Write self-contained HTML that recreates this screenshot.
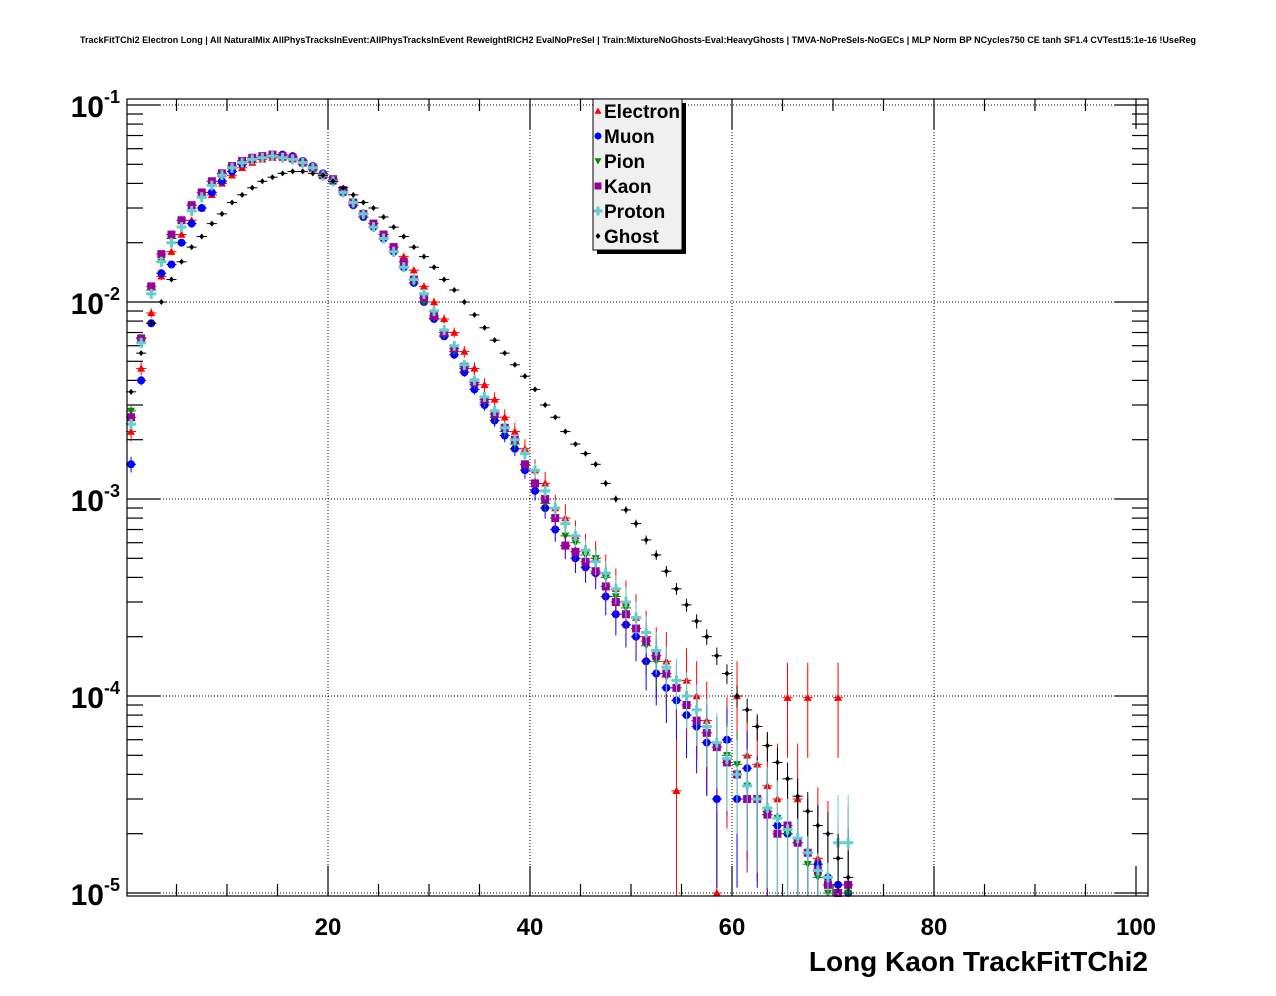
<!DOCTYPE html>
<html><head><meta charset="utf-8"><style>
body{margin:0;background:#fff;}
svg{display:block;font-family:"Liberation Sans",Arial,sans-serif;}
</style></head><body>
<svg id="chart" width="1276" height="996" viewBox="0 0 1276 996" xmlns="http://www.w3.org/2000/svg">
<rect x="0" y="0" width="1276" height="996" fill="#fff"/>
<text x="638" y="43" text-anchor="middle" font-size="9.5" font-weight="bold" textLength="1116" lengthAdjust="spacingAndGlyphs">TrackFitTChi2 Electron Long | All NaturalMix AllPhysTracksInEvent:AllPhysTracksInEvent ReweightRICH2 EvalNoPreSel | Train:MixtureNoGhosts-Eval:HeavyGhosts | TMVA-NoPreSels-NoGECs | MLP Norm BP NCycles750 CE tanh SF1.4 CVTest15:1e-16 !UseReg</text>
<g id="grid"></g>
<g id="ticks"></g>
<g id="marks"></g>
<rect x="127" y="99" width="1021" height="797" fill="none" stroke="#000" stroke-width="1.2"/>
<text x="1148" y="971" text-anchor="end" font-size="28" font-weight="bold">Long Kaon TrackFitTChi2</text>
<g>
<rect x="597" y="103" width="89" height="151" fill="#000"/>
<rect x="593" y="99" width="89" height="151" fill="#f0f0f0" stroke="#000" stroke-width="1"/>
<g id="legend-entries"></g>
</g>
</svg>
<script>
const binCenters = [];
for (let i = 0; i < 72; i++) binCenters.push(0.5 + i);
const seriesNames = ["Electron","Muon","Pion","Kaon","Proton","Ghost"];
const electron = [2.2e-3,4.6e-3,8.8e-3,1.35e-2,1.8e-2,2.2e-2,2.6e-2,3.0e-2,3.5e-2,4.0e-2,4.4e-2,4.8e-2,5.1e-2,5.3e-2,5.4e-2,5.4e-2,5.3e-2,5.1e-2,4.8e-2,4.4e-2,4.1e-2,3.6e-2,3.2e-2,2.8e-2,2.5e-2,2.2e-2,1.9e-2,1.7e-2,1.45e-2,1.2e-2,1.0e-2,8.2e-3,7.0e-3,5.6e-3,4.6e-3,3.8e-3,3.2e-3,2.6e-3,2.2e-3,1.8e-3,1.4e-3,1.2e-3,9e-4,8e-4,6.5e-4,5.5e-4,5e-4,4.2e-4,3.5e-4,3.0e-4,2.5e-4,2.0e-4,1.6e-4,1.5e-4,3.3e-5,1.2e-4,1.0e-4,7.5e-5,1e-5,6e-5,1e-4,5e-5,4.5e-5,3.5e-5,3e-5,9.8e-5,3e-5,9.8e-5,1.5e-5,1.2e-5,9.8e-5,1.1e-5];
const muon = [1.5e-3,4.0e-3,7.8e-3,1.4e-2,1.55e-2,2.0e-2,2.5e-2,3.0e-2,3.6e-2,4.1e-2,4.6e-2,5.0e-2,5.3e-2,5.5e-2,5.6e-2,5.6e-2,5.5e-2,5.2e-2,4.9e-2,4.5e-2,4.1e-2,3.6e-2,3.1e-2,2.7e-2,2.4e-2,2.1e-2,1.8e-2,1.5e-2,1.25e-2,1.0e-2,8.2e-3,6.7e-3,5.4e-3,4.4e-3,3.6e-3,3.0e-3,2.5e-3,2.1e-3,1.8e-3,1.4e-3,1.1e-3,9e-4,7e-4,5.8e-4,5.0e-4,4.5e-4,4.2e-4,3.2e-4,2.6e-4,2.3e-4,2.0e-4,1.5e-4,1.3e-4,1.1e-4,9.5e-5,8e-5,7e-5,5.8e-5,3e-5,6e-5,3e-5,4.3e-5,3e-5,2.5e-5,2.2e-5,2.0e-5,1.8e-5,1.6e-5,1.4e-5,1.2e-5,1.1e-5,1.0e-5];
const pion = [2.8e-3,6.6e-3,1.15e-2,1.6e-2,2.1e-2,2.6e-2,3.1e-2,3.6e-2,4.1e-2,4.5e-2,4.9e-2,5.2e-2,5.4e-2,5.5e-2,5.5e-2,5.4e-2,5.3e-2,5.0e-2,4.7e-2,4.3e-2,4.1e-2,3.6e-2,3.1e-2,2.7e-2,2.4e-2,2.1e-2,1.8e-2,1.5e-2,1.25e-2,1.0e-2,8.3e-3,6.8e-3,5.6e-3,4.6e-3,3.8e-3,3.1e-3,2.6e-3,2.2e-3,1.9e-3,1.5e-3,1.2e-3,9.5e-4,8e-4,6.5e-4,6e-4,5.2e-4,5e-4,4e-4,3.2e-4,2.8e-4,2.2e-4,1.8e-4,1.5e-4,1.25e-4,1.1e-4,9e-5,7.5e-5,6.5e-5,5.5e-5,5e-5,4.5e-5,3.5e-5,3e-5,2.6e-5,2.4e-5,2e-5,1.8e-5,1.4e-5,1.2e-5,1e-5,1e-5,1e-5];
const kaon = [2.6e-3,6.5e-3,1.2e-2,1.75e-2,2.2e-2,2.6e-2,3.1e-2,3.6e-2,4.1e-2,4.5e-2,4.9e-2,5.2e-2,5.4e-2,5.5e-2,5.6e-2,5.5e-2,5.4e-2,5.1e-2,4.8e-2,4.4e-2,4.2e-2,3.7e-2,3.2e-2,2.8e-2,2.5e-2,2.2e-2,1.9e-2,1.6e-2,1.3e-2,1.05e-2,8.5e-3,7e-3,5.8e-3,4.7e-3,3.9e-3,3.2e-3,2.7e-3,2.3e-3,2.0e-3,1.5e-3,1.2e-3,1.0e-3,8e-4,5.8e-4,5.4e-4,4.8e-4,4.3e-4,3.6e-4,3.0e-4,2.6e-4,2.2e-4,1.9e-4,1.6e-4,1.3e-4,1.1e-4,9e-5,7.5e-5,6.5e-5,5.5e-5,4.6e-5,4e-5,3e-5,3e-5,2.5e-5,2.0e-5,2.2e-5,1.8e-5,1.6e-5,1.3e-5,1.1e-5,1.0e-5,1.1e-5];
const proton = [2.4e-3,6.2e-3,1.1e-2,1.6e-2,2.0e-2,2.4e-2,2.9e-2,3.4e-2,3.9e-2,4.4e-2,4.8e-2,5.1e-2,5.3e-2,5.4e-2,5.5e-2,5.4e-2,5.3e-2,5.1e-2,4.8e-2,4.4e-2,4.1e-2,3.6e-2,3.2e-2,2.8e-2,2.4e-2,2.1e-2,1.8e-2,1.5e-2,1.3e-2,1.1e-2,9e-3,7.2e-3,6e-3,4.8e-3,4e-3,3.3e-3,2.8e-3,2.3e-3,2.0e-3,1.7e-3,1.4e-3,1.1e-3,9e-4,7.5e-4,6.5e-4,5.5e-4,4.8e-4,4.2e-4,3.5e-4,3.0e-4,2.5e-4,2.1e-4,1.7e-4,1.4e-4,1.2e-4,1.0e-4,8.5e-5,7e-5,5.8e-5,4.8e-5,4e-5,3.5e-5,3e-5,2.7e-5,2.4e-5,2.1e-5,1.9e-5,1.6e-5,1.3e-5,1.2e-5,1.8e-5,1.8e-5];
const ghost = [3.5e-3,5.5e-3,7.8e-3,1.0e-2,1.3e-2,1.6e-2,1.9e-2,2.15e-2,2.5e-2,2.8e-2,3.2e-2,3.5e-2,3.8e-2,4.1e-2,4.3e-2,4.5e-2,4.6e-2,4.6e-2,4.5e-2,4.4e-2,4.1e-2,3.8e-2,3.5e-2,3.2e-2,3.0e-2,2.7e-2,2.4e-2,2.15e-2,1.9e-2,1.7e-2,1.5e-2,1.3e-2,1.15e-2,1.0e-2,8.6e-3,7.4e-3,6.4e-3,5.5e-3,4.8e-3,4.2e-3,3.6e-3,3.0e-3,2.6e-3,2.2e-3,1.9e-3,1.7e-3,1.5e-3,1.2e-3,1.0e-3,8.8e-4,7.5e-4,6.2e-4,5.2e-4,4.3e-4,3.5e-4,2.9e-4,2.4e-4,2.0e-4,1.6e-4,1.3e-4,1.0e-4,8.5e-5,7e-5,5.6e-5,4.6e-5,3.8e-5,3.1e-5,2.6e-5,2.2e-5,2.0e-5,1.5e-5,1.2e-5];
const xTickLabels = ["20","40","60","80","100"];
const yTickLabels = ["-5","-4","-3","-2","-1"];

const NS = "http://www.w3.org/2000/svg";
const X0 = 126, XS = 10.1;
function xPos(v){ return X0 + v*XS; }
function yPos(v){ return 893 - (Math.log10(v)+5)*197; }
function mk(tag, attrs, parent){ const e=document.createElementNS(NS,tag); for(const k in attrs) e.setAttribute(k,attrs[k]); parent.appendChild(e); return e; }
const grid=document.getElementById('grid'), ticks=document.getElementById('ticks'), marks=document.getElementById('marks');
const FL=127, FR=1148, FT=99, FB=896;
xTickLabels.forEach(lab=>{
  const v=+lab, x=xPos(v);
  if (v<100){ const g=mk('line',{x1:x,x2:x,y1:FT,y2:FB,stroke:'#000','stroke-width':1,'stroke-dasharray':'1,2'},grid);
    }
  const t=mk('text',{x:x,y:935,'text-anchor':'middle','font-size':24,'font-weight':'bold'},ticks);
  t.textContent=lab;
   
});
for(let v=5; v<=100; v+=5){
  const x=xPos(v), len=(v%20===0)?30:12;
  mk('line',{x1:x,x2:x,y1:FB,y2:FB-len,stroke:'#000','stroke-width':1.2},ticks);
  mk('line',{x1:x,x2:x,y1:FT,y2:FT+len,stroke:'#000','stroke-width':1.2},ticks);
}
yTickLabels.forEach(lab=>{
  const e=+lab, y=yPos(Math.pow(10,e));
  const g=mk('line',{x1:FL,x2:FR,y1:y,y2:y,stroke:'#000','stroke-width':1,'stroke-dasharray':'1,2'},grid);
   
  const t=mk('text',{x:104,y:y+12,'text-anchor':'end','font-size':30,'font-weight':'bold'},ticks);
  t.textContent='10';
   
  const s=mk('text',{x:104,y:y-2,'text-anchor':'start','font-size':18,'font-weight':'bold'},ticks);
  s.textContent=lab;
  for(let m=1;m<=9;m++){
    const yy=yPos(m*Math.pow(10,e)); if(yy<FT) break;
    const len=m===1?33:16;
    mk('line',{x1:FL,x2:FL+len,y1:yy,y2:yy,stroke:'#000','stroke-width':1.2},ticks);
    mk('line',{x1:FR,x2:FR-len,y1:yy,y2:yy,stroke:'#000','stroke-width':1.2},ticks);
    if(e===-1) break;
  }
});
const colors=["#ff0000","#0000ff","#008800","#990099","#66cccc","#000000"];
const allSeries=[electron,muon,pion,kaon,proton,ghost];
const stats=[4e4,8e4,1e5,1e5,1e5,6e5];
function marker(kind,x,y,c,parent,size){
  const s=size||4;
  if(kind===0) return mk('polygon',{points:`${x},${y-s} ${x-s},${y+s*0.8} ${x+s},${y+s*0.8}`,fill:c},parent);
  if(kind===1) return mk('circle',{cx:x,cy:y,r:s,fill:c},parent);
  if(kind===2) return mk('polygon',{points:`${x},${y+s} ${x-s},${y-s*0.8} ${x+s},${y-s*0.8}`,fill:c},parent);
  if(kind===3) return mk('rect',{x:x-s,y:y-s,width:2*s,height:2*s,fill:c},parent);
  if(kind===4) return mk('path',{d:`M${x-s-1},${y-1.5}h${2*s+2}v3h${-2*s-2}z M${x-1.5},${y-s-1}h3v${2*s+2}h-3z`,fill:c},parent);
  return mk('polygon',{points:`${x},${y-3} ${x-2.5},${y} ${x},${y+3} ${x+2.5},${y}`,fill:c},parent);
}
allSeries.forEach((vals,si)=>{
  const g=mk('g',{},marks);
  
  
  vals.forEach((v,i)=>{
    const xc=binCenters[i]; if(!(v>0)) return;
    const x=xPos(xc), y=yPos(v);
    const err=Math.sqrt(v*stats[si])/stats[si];
    const yHi=yPos(v+err), yLo=(v-err>1e-6)?yPos(v-err):FB;
    mk('line',{x1:x,x2:x,y1:Math.max(FT,yHi),y2:Math.min(FB,yLo),stroke:colors[si],'stroke-width':1},g);
    mk('line',{x1:xPos(xc-0.5),x2:xPos(xc+0.5),y1:y,y2:y,stroke:colors[si],'stroke-width':1},g);
    const m=marker(si,x,y,colors[si],g);
    
    
  });
});
const le=document.getElementById('legend-entries');
seriesNames.forEach((n,i)=>{
  const y=111+i*25;
  const g=mk('g',{},le);
  
  
  marker(i,598,y,colors[i],g,i===5?3:3.5);
  const t=mk('text',{x:604,y:y+7,'font-size':19,'font-weight':'bold'},g);
  t.textContent=n;
});
</script>
</body></html>
